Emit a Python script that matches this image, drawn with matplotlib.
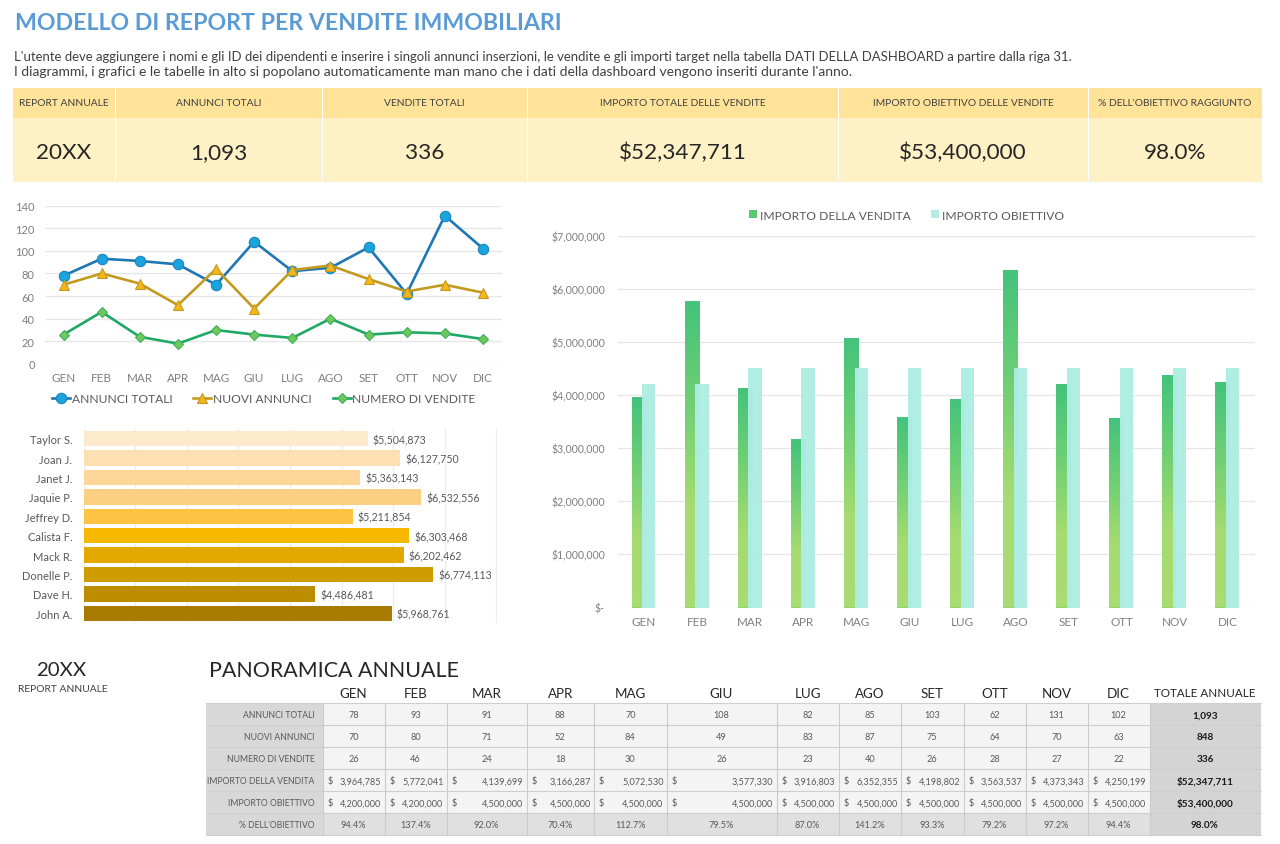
import matplotlib
matplotlib.use('Agg')
import matplotlib.pyplot as plt
import numpy as np
from matplotlib.patches import Rectangle
from matplotlib.colors import LinearSegmentedColormap

plt.rcParams['font.family'] = ['Lato', 'DejaVu Sans']

W, H = 1280, 845
MONTHS = ['GEN', 'FEB', 'MAR', 'APR', 'MAG', 'GIU', 'LUG', 'AGO', 'SET', 'OTT', 'NOV', 'DIC']
ANNUNCI_TOTALI = [78, 93, 91, 88, 70, 108, 82, 85, 103, 62, 131, 102]
NUOVI_ANNUNCI = [70, 80, 71, 52, 84, 49, 83, 87, 75, 64, 70, 63]
NUMERO_VENDITE = [26, 46, 24, 18, 30, 26, 23, 40, 26, 28, 27, 22]
IMPORTO_VENDITA = [3964785, 5772041, 4139699, 3166287, 5072530, 3577330,
                   3916803, 6352355, 4198802, 3563537, 4373343, 4250199]
IMPORTO_OBIETTIVO = [4200000, 4200000, 4500000, 4500000, 4500000, 4500000,
                     4500000, 4500000, 4500000, 4500000, 4500000, 4500000]
PCT_OBIETTIVO = [94.4, 137.4, 92.0, 70.4, 112.7, 79.5, 87.0, 141.2, 93.3, 79.2, 97.2, 94.4]
AGENTI = ['Taylor S.', 'Joan J.', 'Janet J.', 'Jaquie P.', 'Jeffrey D.', 'Calista F.',
          'Mack R.', 'Donelle P.', 'Dave H.', 'John A.']
VENDITE_AGENTI = [5504873, 6127750, 5363143, 6532556, 5211854, 6303468,
                  6202462, 6774113, 4486481, 5968761]
KPI_LABELS = ['REPORT ANNUALE', 'ANNUNCI TOTALI', 'VENDITE TOTALI', 'IMPORTO TOTALE DELLE VENDITE',
              'IMPORTO OBIETTIVO DELLE VENDITE', "% DELL'OBIETTIVO RAGGIUNTO"]
KPI_VALUES = ['20XX', '1,093', '336', '$52,347,711', '$53,400,000', '98.0%']
ROW_LABELS = ['ANNUNCI TOTALI', 'NUOVI ANNUNCI', 'NUMERO DI VENDITE', 'IMPORTO DELLA VENDITA',
              'IMPORTO OBIETTIVO', "% DELL'OBIETTIVO"]
ROW_TOTALS = ['1,093', '848', '336', '$52,347,711', '$53,400,000', '98.0%']
AGENT_COLORS = ['#FDE9CB', '#FDE0B2', '#FDD79A', '#FDCF82', '#FFC343',
                '#F6B900', '#E4A900', '#CF9C00', '#BD8D00', '#A87C00']

GRID = '#E6E6E6'
TICK = '#7F7F7F'
TXT = '#595959'
DARK = '#262626'

fig = plt.figure(figsize=(W / 100, H / 100), dpi=100, facecolor='white')


def axes_px(x0, y0, x1, y1, **kw):
    return fig.add_axes([x0 / W, 1 - y1 / H, (x1 - x0) / W, (y1 - y0) / H], **kw)


# Page layer in pixel coordinates
pg = fig.add_axes([0, 0, 1, 1])
pg.set_xlim(0, W)
pg.set_ylim(H, 0)
pg.axis('off')


def rect(x0, y0, x1, y1, c, ec='none', lw=0, z=1):
    pg.add_patch(Rectangle((x0, y0), x1 - x0, y1 - y0, fc=c, ec=ec, lw=lw, zorder=z))


pg.text(15, 24, 'MODELLO DI REPORT PER VENDITE IMMOBILIARI', fontsize=16.7, fontweight='bold',
        color='#5B9BD5', va='center', ha='left')
pg.text(14, 57, "L'utente deve aggiungere i nomi e gli ID dei dipendenti e inserire i singoli annunci "
        "inserzioni, le vendite e gli importi target nella tabella DATI DELLA DASHBOARD a partire dalla riga 31.",
        fontsize=9.45, color='#404040', va='center')
pg.text(14, 72, "I diagrammi, i grafici e le tabelle in alto si popolano automaticamente man mano che i dati "
        "della dashboard vengono inseriti durante l'anno.",
        fontsize=10.0, color='#404040', va='center')

# KPI band
kpi_edges = [12, 115, 322, 527, 838, 1088, 1262]
for i in range(6):
    a, b = kpi_edges[i], kpi_edges[i + 1]
    rect(a + 0.5, 89, b - 0.5, 118.5, '#FFE398')
    rect(a + 0.5, 118.5, b - 0.5, 183, '#FFF1C6')
    pg.text((a + b) / 2, 104, KPI_LABELS[i], ha='center', va='center', fontsize=7.4, color='#404040')
    pg.text((a + b) / 2, 153, KPI_VALUES[i], ha='center', va='center', fontsize=16.2, color=DARK)

# Line chart
ax = axes_px(44.5, 206.5, 502, 365)
xs = np.arange(12)
ax.plot(xs, ANNUNCI_TOTALI, color='#1F77B4', lw=1.9, marker='o', ms=7.5, mfc='#1AA3DC', mec='#1C84BE',
        mew=0.8, label='ANNUNCI TOTALI', zorder=3)
ax.plot(xs, NUOVI_ANNUNCI, color='#C49A1E', lw=1.9, marker='^', ms=7.5, mfc='#F5B51C', mec='#C49A1E',
        mew=0.8, label='NUOVI ANNUNCI', zorder=4)
ax.plot(xs, NUMERO_VENDITE, color='#1FA866', lw=1.9, marker='D', ms=5.5, mfc='#6CC95A', mec='#3FAF60',
        mew=0.8, label='NUMERO DI VENDITE', zorder=5)
ax.set_xlim(-0.5, 11.5)
ax.set_ylim(0, 140)
ax.set_yticks(range(0, 141, 20))
ax.set_xticks(xs, MONTHS)
ax.grid(axis='y', color=GRID, lw=0.9)
ax.set_axisbelow(True)
for s in ax.spines.values():
    s.set_visible(False)
ax.tick_params(axis='x', length=0, labelsize=8.4, labelcolor=TICK, pad=5.5)
ax.tick_params(axis='y', length=0, labelsize=8.0, labelcolor=TICK, pad=7)
ax.patch.set_alpha(0)
ax.legend(loc='upper center', bbox_to_anchor=(0.479, -0.145), ncol=3, frameon=False, fontsize=8.65,
          labelcolor=TXT, handlelength=1.5, handletextpad=0.12, columnspacing=1.75, borderpad=0)

# Agent bars
ax2 = axes_px(83.5, 430, 496.5, 624)
ypos = np.arange(len(AGENTI))
ax2.barh(ypos, VENDITE_AGENTI, height=0.79, color=AGENT_COLORS, zorder=3)
ax2.set_ylim(len(AGENTI) - 0.5, -0.5)
ax2.set_xlim(0, 8000000)
ax2.set_xticks(np.arange(0, 8000001, 1000000))
ax2.set_yticks(ypos, AGENTI)
ax2.set_xticklabels([])
ax2.grid(axis='x', color='#EDEDED', lw=0.9)
ax2.set_axisbelow(True)
for s in ax2.spines.values():
    s.set_visible(False)
ax2.tick_params(length=0, labelsize=8.0, labelcolor=TXT, pad=8)
for y, v in zip(ypos, VENDITE_AGENTI):
    ax2.annotate(f'${v:,.0f}', (v, y), xytext=(3.8, -0.5), textcoords='offset points', va='center',
                 fontsize=7.6, color=TXT, zorder=4)

# Main column chart
ax3 = axes_px(617.5, 236.5, 1254.5, 608.5)
ax3.set_xlim(-0.5, 11.5)
ax3.set_ylim(0, 7000000)
ax3.set_yticks(np.arange(0, 7000001, 1000000))
ax3.set_yticklabels(['$-'] + [f'${v:,.0f}' for v in range(1000000, 7000001, 1000000)])
ax3.set_xticks(xs, MONTHS)
ax3.grid(axis='y', color=GRID, lw=0.9)
ax3.set_axisbelow(True)
for s in ax3.spines.values():
    s.set_visible(False)
ax3.tick_params(axis='x', length=0, labelsize=8.4, labelcolor=TICK, pad=6)
ax3.tick_params(axis='y', length=0, labelsize=7.6, labelcolor=TICK, pad=9)
ax3.patch.set_alpha(0)
bw1, off1, bw2, off2 = 0.27, -0.1, 0.25, 0.09
bars1 = ax3.bar(xs + off1, IMPORTO_VENDITA, width=bw1, color='#6CCB74', label='IMPORTO DELLA VENDITA', zorder=2)
for b in bars1:
    b.set_facecolor('#8FD672')
cmap = LinearSegmentedColormap.from_list('g', ['#A9DC70', '#A5DB70', '#6FCF74', '#43C37B'])
grad = np.linspace(1, 0, 128).reshape(-1, 1)
for b in bars1:
    im = ax3.imshow(grad, cmap=cmap, extent=(b.get_x(), b.get_x() + b.get_width(), 0, b.get_height()),
                    aspect='auto', zorder=2.1, vmin=0, vmax=1, interpolation='nearest')
    im.set_clip_path(b)
ax3.set_xlim(-0.5, 11.5)
ax3.set_ylim(0, 7000000)
ax3.bar(xs + off2, IMPORTO_OBIETTIVO, width=bw2, color='#AEEDE3', alpha=0.97, label='IMPORTO OBIETTIVO', zorder=3)
leg = ax3.legend(loc='upper center', bbox_to_anchor=(0.4537, 1.086), ncol=2, frameon=False, fontsize=8.65,
                 labelcolor=TXT, handlelength=0.6, handleheight=0.6, handletextpad=0.25, columnspacing=1.75,
                 borderpad=0)
leg.legend_handles[0].set_facecolor('#5CC873')

# Annual overview
pg.text(61, 671, '20XX', ha='center', va='center', fontsize=14.7, color=DARK)
pg.text(63, 690, 'REPORT ANNUALE', ha='center', va='center', fontsize=7.4, color='#404040')
pg.text(209, 671, 'PANORAMICA ANNUALE', ha='left', va='center', fontsize=15.4, color=DARK)

col_edges = [205.5, 322.5, 384.5, 446.5, 526.5, 594, 666.5, 776.5, 838.5, 901, 963.5, 1025.5, 1087.5, 1149.5, 1260.5]
T0, RH = 704, 22
rect(col_edges[0], T0, col_edges[1], T0 + 6 * RH, '#D8D8D8', z=1)
rect(col_edges[1], T0, col_edges[-2], T0 + 5 * RH, '#F4F4F4', z=1)
rect(col_edges[1], T0 + 5 * RH, col_edges[-2], T0 + 6 * RH, '#E0E0E0', z=1)
rect(col_edges[-2], T0, col_edges[-1], T0 + 6 * RH, '#D4D4D4', z=1)
for r in range(7):
    pg.plot([col_edges[0], col_edges[-1]], [T0 + r * RH] * 2, color='#CFCFCF', lw=0.8, zorder=2)
for e in col_edges[1:-1]:
    pg.plot([e, e], [T0, T0 + 6 * RH], color='#CCCCCC', lw=0.8, zorder=2)

for j, m in enumerate(MONTHS):
    cx = (col_edges[j + 1] + col_edges[j + 2]) / 2
    pg.text(cx, 694, m, ha='center', va='center', fontsize=9.6, color=DARK)
pg.text((col_edges[-2] + col_edges[-1]) / 2, 694, 'TOTALE ANNUALE', ha='center', va='center',
        fontsize=8.4, color=DARK)

for r, lab in enumerate(ROW_LABELS):
    cy = T0 + RH * r + RH / 2 + 1
    pg.text(col_edges[1] - 8, cy, lab, ha='right', va='center', fontsize=6.2, color=TXT, zorder=3)
    pg.text((col_edges[-2] + col_edges[-1]) / 2, cy, ROW_TOTALS[r], ha='center', va='center', fontsize=7.2,
            fontweight='bold', color='#1A1A1A', zorder=3)
for j in range(12):
    a, b = col_edges[j + 1], col_edges[j + 2]
    cx = (a + b) / 2
    for r, series in enumerate([ANNUNCI_TOTALI, NUOVI_ANNUNCI, NUMERO_VENDITE]):
        pg.text(cx, T0 + RH * r + RH / 2 + 1, str(series[j]), ha='center', va='center', fontsize=6.6, color=TXT,
                zorder=3)
    for r, series in ((3, IMPORTO_VENDITA), (4, IMPORTO_OBIETTIVO)):
        cy = T0 + RH * r + RH / 2 + 1
        pg.text(a + 5, cy, '$', ha='left', va='center', fontsize=6.6, color=TXT, zorder=3)
        pg.text(b - 3, cy, f'{series[j]:,.0f}', ha='right', va='center', fontsize=6.6, color=TXT, zorder=3)
    pg.text(cx, T0 + RH * 5 + RH / 2 + 1, f'{PCT_OBIETTIVO[j]:.1f}%', ha='center', va='center', fontsize=6.6,
            color=TXT, zorder=3)

fig.savefig('out.png', dpi=100, facecolor='white')
